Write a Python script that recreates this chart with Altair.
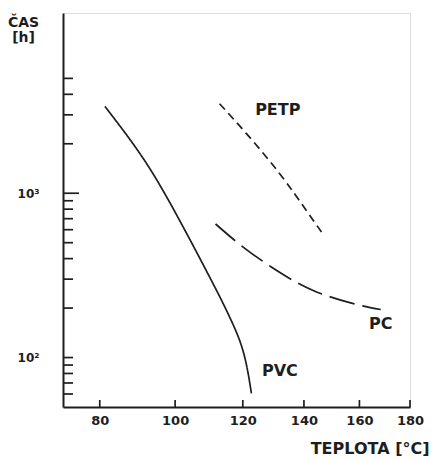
import altair as alt
import pandas as pd

# ---- data ----
pvc_t = [81.3, 90.3, 99.4, 110.9, 115.9, 120.0, 122.7]
pvc_h = [3377, 1754, 810, 283, 177, 111, 60.6]

petp_t = [112.9, 121.0, 131.7, 140.7, 146.3]
petp_h = [3504, 2322, 1324, 791, 575]

pc_t = [111.7, 120.0, 130.6, 143.0, 157.4, 168.2]
pc_h = [650, 472, 341, 257, 213.5, 196]

label_text = ["PETP", "PC", "PVC"]
label_t = [131.2, 168.2, 131.9]
label_h = [3220, 161, 82.9]

x_ticks = [80, 100, 120, 140, 160, 180]
y_minor = [60, 70, 80, 90, 100, 200, 300, 400, 500, 600, 700, 800, 900,
           2000, 3000, 4000, 5000]
y_major = [1000]
y_labels = [100, 1000]

T_MIN, T_MAX = 71, 180
H_MIN, H_MAX = 50, 12500

W, H = 347, 394
FONT = "DejaVu Sans"
INK = "#1e1e1e"

rows = []
for name, ts, hs in [("PVC", pvc_t, pvc_h), ("PETP", petp_t, petp_h), ("PC", pc_t, pc_h)]:
    for t, h in zip(ts, hs):
        rows.append({"series": name, "T": t, "hours": h})
curves = pd.DataFrame(rows)
labels = pd.DataFrame({"label": label_text, "T": label_t, "hours": label_h})
xt = pd.DataFrame({"T": x_ticks})
yt_minor = pd.DataFrame({"hours": y_minor})
yt_major = pd.DataFrame({"hours": y_major})

inv = lambda t: -1000.0 / (t + 273.0)
xscale = alt.Scale(domain=[inv(T_MIN), inv(T_MAX)], nice=False, zero=False)
yscale = alt.Scale(type="log", domain=[H_MIN, H_MAX], nice=False)

xaxis = alt.Axis(
    values=[inv(t) for t in x_ticks],
    labelExpr="format(round(-1000/datum.value - 273), 'd')",
    ticks=False, tickSize=0, grid=False, labelFlush=False,
    domainColor=INK, domainWidth=2,
    labelFont=FONT, labelFontWeight="bold", labelFontSize=13, labelColor=INK,
    labelPadding=7, labelBaseline="top",
    title="TEPLOTA [°C]", titleFont=FONT, titleFontWeight="bold", titleFontSize=16,
    titleColor=INK, titleAnchor="end", titleAlign="right", titleBaseline="bottom",
    titleX=W + 19, titleY=49,
)
yaxis = alt.Axis(
    values=y_labels,
    labelExpr="datum.value == 1000 ? '10³' : '10²'",
    ticks=False, tickSize=0, grid=False, labelFlush=False,
    domainColor=INK, domainWidth=2,
    labelFont=FONT, labelFontWeight="bold", labelFontSize=12, labelColor=INK,
    labelPadding=24,
    title=["ČAS", "[h]"], titleFont=FONT, titleFontWeight="bold", titleFontSize=14,
    titleColor=INK, titleAngle=0, titleAlign="center", titleBaseline="top",
    titleX=-40, titleY=2, titleLineHeight=15,
)

x_enc = alt.X("inv:Q", scale=xscale, axis=xaxis)
y_enc = alt.Y("hours:Q", scale=yscale, axis=yaxis)

lines = alt.Chart(curves).transform_calculate(
    inv="-1000/(datum.T + 273)"
).mark_line(interpolate="natural", color=INK, strokeWidth=1.7).encode(
    x=x_enc, y=y_enc,
    detail="series:N",
    strokeDash=alt.StrokeDash("series:N", legend=None,
                              scale=alt.Scale(domain=["PVC", "PETP", "PC"],
                                              range=[[1, 0], [8, 5], [26, 8]])),
)

text = alt.Chart(labels).transform_calculate(
    inv="-1000/(datum.T + 273)"
).mark_text(font=FONT, fontWeight="bold", fontSize=16, color=INK,
            align="center", baseline="middle").encode(
    x=alt.X("inv:Q", scale=xscale), y=alt.Y("hours:Q", scale=yscale), text="label:N"
)

xticks = alt.Chart(xt).transform_calculate(
    inv="-1000/(datum.T + 273)"
).mark_rule(color=INK, strokeWidth=1.7).encode(
    x=alt.X("inv:Q", scale=xscale), y=alt.value(H), y2=alt.value(H - 7)
)

yticks = alt.Chart(yt_minor).mark_rule(color=INK, strokeWidth=1.7).encode(
    y=alt.Y("hours:Q", scale=yscale), x=alt.value(0), x2=alt.value(10)
)
yticks_major = alt.Chart(yt_major).mark_rule(color=INK, strokeWidth=1.7).encode(
    y=alt.Y("hours:Q", scale=yscale), x=alt.value(0), x2=alt.value(16)
)

chart = alt.layer(lines, text, xticks, yticks, yticks_major).properties(
    width=W, height=H,
    autosize=alt.AutoSizeParams(type="none"),
    padding={"left": 55, "top": 5, "right": 20, "bottom": 50},
).configure_view(stroke=None).configure(background="white")

chart.save("out.html", embed_options={"renderer": "svg", "actions": False})
